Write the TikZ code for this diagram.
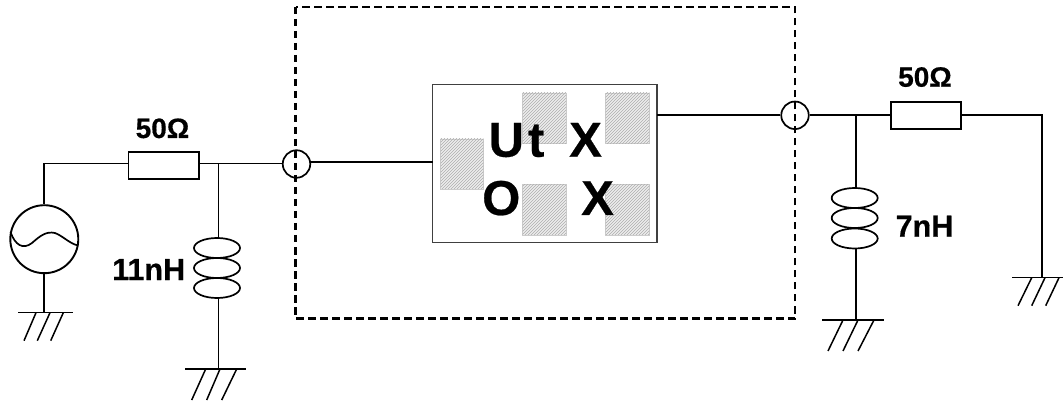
\documentclass[tikz,border=0pt]{standalone}
\usepackage{fontspec}
\setmainfont{Liberation Sans}[BoldFeatures={FakeBold=0.5}]
\usetikzlibrary{shapes.geometric,patterns}
\tikzset{
  wire/.style={line width=1.7pt,black},
  gnd/.style={line width=1.5pt,black},
  res/.style={draw,line width=1.7pt,rectangle,minimum width=70.5pt,minimum height=27pt,inner sep=0pt},
  portc/.style={draw,line width=1.7pt,circle,minimum size=27.5pt,inner sep=0pt},
  coil/.style={draw,line width=1.7pt,ellipse,minimum width=46pt,minimum height=20pt,inner sep=0pt},
  srcc/.style={draw,line width=1.9pt,circle,minimum size=68pt,inner sep=0pt},
  chip/.style={draw=black!75,fill=white,line width=1.2pt},
  pad/.style={draw=black!20,line width=0.8pt,fill=black!7,postaction={pattern=north east lines,pattern color=black!32}},
  frame/.style={line width=2.5pt,dash pattern=on 7.5pt off 4.5pt},
  lbl/.style={font=\bfseries\fontsize{28}{30}\selectfont,anchor=base west,inner sep=0pt},
  lblb/.style={font=\bfseries\fontsize{30.5}{32}\selectfont,anchor=base west,inner sep=0pt},
  biglbl/.style={font=\bfseries\fontsize{49}{50}\selectfont,anchor=base west,inner sep=0pt}
}
\begin{document}
\begin{tikzpicture}[x=1pt,y=-1pt]
\useasboundingbox (0,0) rectangle (1063,406);
% dashed frame
\draw[frame] (295.5,7) rectangle (795,318.5);
% chip
\path[chip] (432.7,84.3) rectangle (657,242.7);
\path[pad] (440.7,139) rectangle (483.3,189);
\path[pad] (522.7,93) rectangle (566,143.3);
\path[pad] (605.7,93) rectangle (649.3,143.3);
\path[pad] (522.7,184.3) rectangle (566,235);
\path[pad] (605.7,184.3) rectangle (649.3,235);
\coordinate (chipL) at (432.7,162);
\coordinate (chipR) at (657,115.3);
\node[biglbl] (tU) at (488.5,156.7) {U\hspace{4pt}t};
\node[biglbl] (tX1) at (569,156.7) {X};
\node[biglbl] (tO) at (482,215) {O};
\node[biglbl] (tX2) at (581,215) {X};
% left side
\node[srcc] (src) at (44.3,239.2) {};
\draw[wire] (10.5,232) .. controls (15,245) and (23,250) .. (32,243) .. controls (40,236) and (46,231) .. (55,233) .. controls (63,236) and (70,244) .. (78.3,245.5);
\node[res] (r1) at (163.8,165.7) {};
\node[portc] (p1) at (296.5,164) {};
\draw[wire] (src.north) |- (r1.west |- 0,163.5);
\draw[wire] (r1.east |- 0,163.5) -- (p1.west |- 0,163.5);
\draw[wire] (p1.east |- 0,162) -- (chipL);
\node[lbl] (l1) at (135.5,138) {50Ω};
\node[lblb] (l2) at (112,280) {11nH};
\node[coil] (c1a) at (217,248) {};
\node[coil] (c1b) at (217,268) {};
\node[coil] (c1c) at (217,288) {};
\coordinate (j1) at (218.5,163.5);
\coordinate (g1) at (218.5,369);
\coordinate (g0) at (44.3,312.7);
\draw[wire] (j1) -- (c1a.north -| j1);
\draw[wire] (c1c.south -| j1) -- (g1);
\draw[wire] (src.south) -- (g0);
\draw[gnd] (18,312.7) -- (73,312.7);
\draw[gnd] (24,340.7) -- (36,312.7) (37.3,340.7) -- (50,312.7) (50.7,340.7) -- (63.3,312.7);
\draw[gnd] (185,369) -- (246,369);
\draw[gnd] (191.7,400) -- (205.7,369) (206.7,400) -- (220,369) (221.7,400) -- (236.7,369);
% right side
\node[portc] (p2) at (795,115.3) {};
\node[res] (r2) at (926,115.3) {};
\coordinate (j2) at (855.7,115.3);
\coordinate (cr) at (1042.3,115.3);
\coordinate (g3) at (1042.3,277.7);
\coordinate (g2) at (855.7,320);
\draw[wire] (chipR) -- (p2.west);
\draw[wire] (p2.east) -- (r2.west);
\draw[wire] (r2.east) -- (cr) -- (g3);
\node[lbl] (l3) at (898,86.7) {50Ω};
\node[lblb] (l4) at (895.5,236.7) {7nH};
\node[coil] (c2a) at (854.7,198) {};
\node[coil] (c2b) at (854.7,218) {};
\node[coil] (c2c) at (854.7,238.5) {};
\draw[wire] (j2) -- (c2a.north -| j2);
\draw[wire] (c2c.south -| j2) -- (g2);
\draw[gnd] (822,320) -- (884,320);
\draw[gnd] (828,351) -- (843,320) (843,351) -- (858,320) (858,351) -- (874,320);
\draw[gnd] (1012,277.7) -- (1063,277.7);
\draw[gnd] (1018,305.7) -- (1031.7,277.7) (1031.7,305.7) -- (1045,277.7) (1045.7,305.7) -- (1059,277.7);
\end{tikzpicture}
\end{document}
